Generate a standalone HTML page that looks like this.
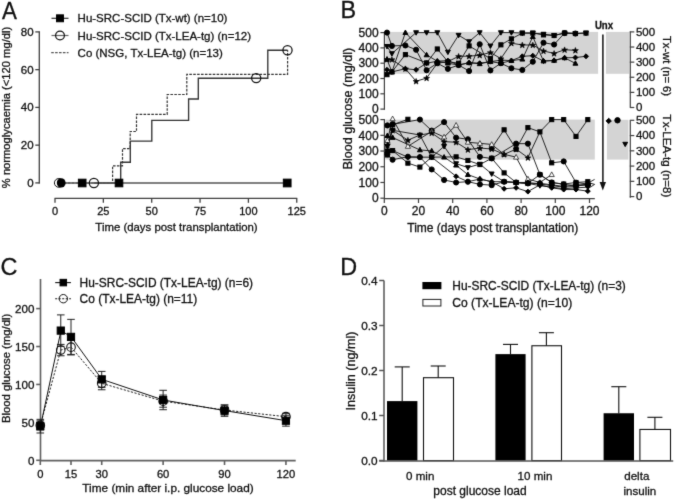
<!DOCTYPE html><html><head><meta charset="utf-8"><style>html,body{margin:0;padding:0;background:#fff;}svg{display:block;} #w{width:675px;height:499px;overflow:hidden;}</style></head><body><div id="w">
<svg width="675" height="499" viewBox="0 0 675 499" style="font-family:'Liberation Sans', sans-serif">
<defs><filter id="bl" filterUnits="userSpaceOnUse" x="0" y="0" width="675" height="499" color-interpolation-filters="sRGB"><feConvolveMatrix order="3" kernelMatrix="0.01134 0.08382 0.01134 0.08382 0.61935 0.08382 0.01134 0.08382 0.01134" edgeMode="duplicate" preserveAlpha="false"/></filter></defs>
<rect width="675" height="499" fill="#fff"/>
<g filter="url(#bl)">
<text x="1.90" y="18.90" font-size="23.6" text-anchor="start" fill="#111" stroke="#111" stroke-width="0.3" textLength="14.9" lengthAdjust="spacingAndGlyphs">A</text>
<line x1="51.50" y1="18.30" x2="68.50" y2="18.30" stroke="#333" stroke-width="1.2"/>
<rect x="56.55" y="14.85" width="6.90" height="6.90" fill="#000" stroke="#000" stroke-width="1"/>
<line x1="51.50" y1="35.50" x2="68.50" y2="35.50" stroke="#666" stroke-width="1.2"/>
<circle cx="60.00" cy="35.50" r="4.40" fill="none" stroke="#111" stroke-width="1.2"/>
<line x1="51.20" y1="52.60" x2="68.50" y2="52.60" stroke="#555" stroke-width="1.3" stroke-dasharray="2.6,1.3"/>
<text x="77.60" y="22.20" font-size="11.5" text-anchor="start" fill="#111" stroke="#111" stroke-width="0.3">Hu-SRC-SCID (Tx-wt) (n=10)</text>
<text x="77.60" y="39.70" font-size="11.5" text-anchor="start" fill="#111" stroke="#111" stroke-width="0.3">Hu-SRC-SCID (Tx-LEA-tg) (n=12)</text>
<text x="77.60" y="56.80" font-size="11.5" text-anchor="start" fill="#111" stroke="#111" stroke-width="0.3">Co (NSG, Tx-LEA-tg) (n=13)</text>
<line x1="39.30" y1="31.60" x2="39.30" y2="183.40" stroke="#404040" stroke-width="1.3"/>
<line x1="35.30" y1="182.90" x2="39.80" y2="182.90" stroke="#404040" stroke-width="1.3"/>
<text x="33.60" y="186.90" font-size="11.5" text-anchor="end" fill="#111" stroke="#111" stroke-width="0.3">0</text>
<line x1="35.30" y1="145.15" x2="39.80" y2="145.15" stroke="#404040" stroke-width="1.3"/>
<text x="33.60" y="149.15" font-size="11.5" text-anchor="end" fill="#111" stroke="#111" stroke-width="0.3">20</text>
<line x1="35.30" y1="107.40" x2="39.80" y2="107.40" stroke="#404040" stroke-width="1.3"/>
<text x="33.60" y="111.40" font-size="11.5" text-anchor="end" fill="#111" stroke="#111" stroke-width="0.3">40</text>
<line x1="35.30" y1="69.65" x2="39.80" y2="69.65" stroke="#404040" stroke-width="1.3"/>
<text x="33.60" y="73.65" font-size="11.5" text-anchor="end" fill="#111" stroke="#111" stroke-width="0.3">60</text>
<line x1="35.30" y1="31.90" x2="39.80" y2="31.90" stroke="#404040" stroke-width="1.3"/>
<text x="33.60" y="35.90" font-size="11.5" text-anchor="end" fill="#111" stroke="#111" stroke-width="0.3">80</text>
<line x1="54.50" y1="198.40" x2="297.30" y2="198.40" stroke="#404040" stroke-width="1.3"/>
<line x1="55.00" y1="198.40" x2="55.00" y2="202.80" stroke="#404040" stroke-width="1.3"/>
<text x="55.00" y="215.30" font-size="11" text-anchor="middle" fill="#111" stroke="#111" stroke-width="0.3">0</text>
<line x1="103.35" y1="198.40" x2="103.35" y2="202.80" stroke="#404040" stroke-width="1.3"/>
<text x="103.35" y="215.30" font-size="11" text-anchor="middle" fill="#111" stroke="#111" stroke-width="0.3">25</text>
<line x1="151.70" y1="198.40" x2="151.70" y2="202.80" stroke="#404040" stroke-width="1.3"/>
<text x="151.70" y="215.30" font-size="11" text-anchor="middle" fill="#111" stroke="#111" stroke-width="0.3">50</text>
<line x1="200.05" y1="198.40" x2="200.05" y2="202.80" stroke="#404040" stroke-width="1.3"/>
<text x="200.05" y="215.30" font-size="11" text-anchor="middle" fill="#111" stroke="#111" stroke-width="0.3">75</text>
<line x1="248.40" y1="198.40" x2="248.40" y2="202.80" stroke="#404040" stroke-width="1.3"/>
<text x="248.40" y="215.30" font-size="11" text-anchor="middle" fill="#111" stroke="#111" stroke-width="0.3">100</text>
<line x1="296.75" y1="198.40" x2="296.75" y2="202.80" stroke="#404040" stroke-width="1.3"/>
<text x="296.75" y="215.30" font-size="11" text-anchor="middle" fill="#111" stroke="#111" stroke-width="0.3">125</text>
<text x="176.50" y="231.20" font-size="11.4" text-anchor="middle" fill="#111" stroke="#111" stroke-width="0.3">Time (days post transplantation)</text>
<text x="10.30" y="107.50" font-size="11.2" text-anchor="middle" fill="#111" stroke="#111" stroke-width="0.3" transform="rotate(-90 10.30 107.50)">% normoglycaemia (&lt;120 mg/dl)</text>
<polyline points="60.00,183.00 112.60,183.00 112.60,165.80 122.50,165.80 122.50,148.60 130.20,148.60 130.20,131.50 136.50,131.50 136.50,114.40 167.20,114.40 167.20,94.50 186.80,94.50 186.80,74.40 287.60,74.40 287.60,50.00" fill="none" stroke="#333" stroke-width="1.2" stroke-dasharray="2.6,1.3" stroke-linejoin="miter"/>
<polyline points="93.90,183.00 120.70,183.00 120.70,162.20 130.30,162.20 130.30,141.10 151.80,141.10 151.80,120.30 188.60,120.30 188.60,99.00 198.30,99.00 198.30,78.20 267.80,78.20 267.80,50.20 287.50,50.20" fill="none" stroke="#333" stroke-width="1.35" stroke-linejoin="miter"/>
<line x1="58.00" y1="183.00" x2="287.00" y2="183.00" stroke="#555" stroke-width="1.3"/>
<circle cx="93.90" cy="183.00" r="4.60" fill="none" stroke="#111" stroke-width="1.25"/>
<circle cx="256.20" cy="78.10" r="4.60" fill="none" stroke="#111" stroke-width="1.25"/>
<circle cx="287.50" cy="50.20" r="4.60" fill="none" stroke="#111" stroke-width="1.25"/>
<circle cx="58.80" cy="182.90" r="4.40" fill="#fff" stroke="#111" stroke-width="1"/>
<ellipse cx="61.2" cy="182.9" rx="4.4" ry="4.7" fill="#000"/>
<rect x="78.40" y="179.20" width="7.60" height="7.60" fill="#000" stroke="#000" stroke-width="1"/>
<rect x="115.20" y="179.20" width="7.60" height="7.60" fill="#000" stroke="#000" stroke-width="1"/>
<rect x="283.35" y="179.15" width="7.70" height="7.70" fill="#000" stroke="#000" stroke-width="1"/>
<text x="340.60" y="17.70" font-size="23.4" text-anchor="start" fill="#111" stroke="#111" stroke-width="0.3">B</text>
<rect x="385.5" y="31.9" width="212.6" height="41.9" fill="#d4d4d4"/>
<rect x="605.9" y="31.9" width="23.3" height="41.9" fill="#d4d4d4"/>
<rect x="385.5" y="119.6" width="209.3" height="40.0" fill="#d4d4d4"/>
<rect x="606.9" y="119.8" width="21.5" height="39.8" fill="#d4d4d4"/>
<line x1="384.40" y1="32.20" x2="384.40" y2="109.80" stroke="#404040" stroke-width="1.2"/>
<line x1="380.40" y1="109.10" x2="384.90" y2="109.10" stroke="#404040" stroke-width="1.2"/>
<text x="378.60" y="113.30" font-size="12" text-anchor="end" fill="#111" stroke="#111" stroke-width="0.3">0</text>
<line x1="380.40" y1="93.80" x2="384.90" y2="93.80" stroke="#404040" stroke-width="1.2"/>
<text x="378.60" y="98.00" font-size="12" text-anchor="end" fill="#111" stroke="#111" stroke-width="0.3">100</text>
<line x1="380.40" y1="78.50" x2="384.90" y2="78.50" stroke="#404040" stroke-width="1.2"/>
<text x="378.60" y="82.70" font-size="12" text-anchor="end" fill="#111" stroke="#111" stroke-width="0.3">200</text>
<line x1="380.40" y1="63.20" x2="384.90" y2="63.20" stroke="#404040" stroke-width="1.2"/>
<text x="378.60" y="67.40" font-size="12" text-anchor="end" fill="#111" stroke="#111" stroke-width="0.3">300</text>
<line x1="380.40" y1="47.90" x2="384.90" y2="47.90" stroke="#404040" stroke-width="1.2"/>
<text x="378.60" y="52.10" font-size="12" text-anchor="end" fill="#111" stroke="#111" stroke-width="0.3">400</text>
<line x1="380.40" y1="32.60" x2="384.90" y2="32.60" stroke="#404040" stroke-width="1.2"/>
<text x="378.60" y="36.80" font-size="12" text-anchor="end" fill="#111" stroke="#111" stroke-width="0.3">500</text>
<line x1="384.40" y1="119.40" x2="384.40" y2="198.60" stroke="#404040" stroke-width="1.2"/>
<line x1="380.40" y1="198.20" x2="384.90" y2="198.20" stroke="#404040" stroke-width="1.2"/>
<text x="378.60" y="202.40" font-size="12" text-anchor="end" fill="#111" stroke="#111" stroke-width="0.3">0</text>
<line x1="380.40" y1="182.48" x2="384.90" y2="182.48" stroke="#404040" stroke-width="1.2"/>
<text x="378.60" y="186.68" font-size="12" text-anchor="end" fill="#111" stroke="#111" stroke-width="0.3">100</text>
<line x1="380.40" y1="166.76" x2="384.90" y2="166.76" stroke="#404040" stroke-width="1.2"/>
<text x="378.60" y="170.96" font-size="12" text-anchor="end" fill="#111" stroke="#111" stroke-width="0.3">200</text>
<line x1="380.40" y1="151.04" x2="384.90" y2="151.04" stroke="#404040" stroke-width="1.2"/>
<text x="378.60" y="155.24" font-size="12" text-anchor="end" fill="#111" stroke="#111" stroke-width="0.3">300</text>
<line x1="380.40" y1="135.32" x2="384.90" y2="135.32" stroke="#404040" stroke-width="1.2"/>
<text x="378.60" y="139.52" font-size="12" text-anchor="end" fill="#111" stroke="#111" stroke-width="0.3">400</text>
<line x1="380.40" y1="119.60" x2="384.90" y2="119.60" stroke="#404040" stroke-width="1.2"/>
<text x="378.60" y="123.80" font-size="12" text-anchor="end" fill="#111" stroke="#111" stroke-width="0.3">500</text>
<line x1="384.00" y1="198.60" x2="594.80" y2="198.60" stroke="#404040" stroke-width="1.2"/>
<line x1="384.30" y1="198.60" x2="384.30" y2="203.00" stroke="#404040" stroke-width="1.2"/>
<text x="384.30" y="215.20" font-size="12" text-anchor="middle" fill="#111" stroke="#111" stroke-width="0.3">0</text>
<line x1="418.50" y1="198.60" x2="418.50" y2="203.00" stroke="#404040" stroke-width="1.2"/>
<text x="418.50" y="215.20" font-size="12" text-anchor="middle" fill="#111" stroke="#111" stroke-width="0.3">20</text>
<line x1="452.70" y1="198.60" x2="452.70" y2="203.00" stroke="#404040" stroke-width="1.2"/>
<text x="452.70" y="215.20" font-size="12" text-anchor="middle" fill="#111" stroke="#111" stroke-width="0.3">40</text>
<line x1="486.90" y1="198.60" x2="486.90" y2="203.00" stroke="#404040" stroke-width="1.2"/>
<text x="486.90" y="215.20" font-size="12" text-anchor="middle" fill="#111" stroke="#111" stroke-width="0.3">60</text>
<line x1="521.10" y1="198.60" x2="521.10" y2="203.00" stroke="#404040" stroke-width="1.2"/>
<text x="521.10" y="215.20" font-size="12" text-anchor="middle" fill="#111" stroke="#111" stroke-width="0.3">80</text>
<line x1="555.30" y1="198.60" x2="555.30" y2="203.00" stroke="#404040" stroke-width="1.2"/>
<text x="555.30" y="215.20" font-size="12" text-anchor="middle" fill="#111" stroke="#111" stroke-width="0.3">100</text>
<line x1="589.50" y1="198.60" x2="589.50" y2="203.00" stroke="#404040" stroke-width="1.2"/>
<text x="589.50" y="215.20" font-size="12" text-anchor="middle" fill="#111" stroke="#111" stroke-width="0.3">120</text>
<text x="492.80" y="231.80" font-size="12" text-anchor="middle" fill="#111" stroke="#111" stroke-width="0.3">Time (days post transplantation)</text>
<text x="352.00" y="108.60" font-size="12.6" text-anchor="middle" fill="#111" stroke="#111" stroke-width="0.3" transform="rotate(-90 352.00 108.60)">Blood glucose (mg/dl)</text>
<line x1="630.30" y1="31.60" x2="630.30" y2="107.20" stroke="#404040" stroke-width="1.2"/>
<line x1="629.80" y1="107.50" x2="634.30" y2="107.50" stroke="#404040" stroke-width="1.2"/>
<text x="635.90" y="111.20" font-size="11.5" text-anchor="start" fill="#111" stroke="#111" stroke-width="0.3">0</text>
<line x1="629.80" y1="92.38" x2="634.30" y2="92.38" stroke="#404040" stroke-width="1.2"/>
<text x="635.90" y="96.08" font-size="11.5" text-anchor="start" fill="#111" stroke="#111" stroke-width="0.3">100</text>
<line x1="629.80" y1="77.26" x2="634.30" y2="77.26" stroke="#404040" stroke-width="1.2"/>
<text x="635.90" y="80.96" font-size="11.5" text-anchor="start" fill="#111" stroke="#111" stroke-width="0.3">200</text>
<line x1="629.80" y1="62.14" x2="634.30" y2="62.14" stroke="#404040" stroke-width="1.2"/>
<text x="635.90" y="65.84" font-size="11.5" text-anchor="start" fill="#111" stroke="#111" stroke-width="0.3">300</text>
<line x1="629.80" y1="47.02" x2="634.30" y2="47.02" stroke="#404040" stroke-width="1.2"/>
<text x="635.90" y="50.72" font-size="11.5" text-anchor="start" fill="#111" stroke="#111" stroke-width="0.3">400</text>
<line x1="629.80" y1="31.90" x2="634.30" y2="31.90" stroke="#404040" stroke-width="1.2"/>
<text x="635.90" y="35.60" font-size="11.5" text-anchor="start" fill="#111" stroke="#111" stroke-width="0.3">500</text>
<line x1="630.30" y1="120.40" x2="630.30" y2="197.70" stroke="#404040" stroke-width="1.2"/>
<line x1="629.80" y1="196.60" x2="634.30" y2="196.60" stroke="#404040" stroke-width="1.2"/>
<text x="635.90" y="200.30" font-size="11.5" text-anchor="start" fill="#111" stroke="#111" stroke-width="0.3">0</text>
<line x1="629.80" y1="181.34" x2="634.30" y2="181.34" stroke="#404040" stroke-width="1.2"/>
<text x="635.90" y="185.04" font-size="11.5" text-anchor="start" fill="#111" stroke="#111" stroke-width="0.3">100</text>
<line x1="629.80" y1="166.08" x2="634.30" y2="166.08" stroke="#404040" stroke-width="1.2"/>
<text x="635.90" y="169.78" font-size="11.5" text-anchor="start" fill="#111" stroke="#111" stroke-width="0.3">200</text>
<line x1="629.80" y1="150.82" x2="634.30" y2="150.82" stroke="#404040" stroke-width="1.2"/>
<text x="635.90" y="154.52" font-size="11.5" text-anchor="start" fill="#111" stroke="#111" stroke-width="0.3">300</text>
<line x1="629.80" y1="135.56" x2="634.30" y2="135.56" stroke="#404040" stroke-width="1.2"/>
<text x="635.90" y="139.26" font-size="11.5" text-anchor="start" fill="#111" stroke="#111" stroke-width="0.3">400</text>
<line x1="629.80" y1="120.30" x2="634.30" y2="120.30" stroke="#404040" stroke-width="1.2"/>
<text x="635.90" y="124.00" font-size="11.5" text-anchor="start" fill="#111" stroke="#111" stroke-width="0.3">500</text>
<text x="662.50" y="66.00" font-size="11.2" text-anchor="middle" fill="#111" stroke="#111" stroke-width="0.3" transform="rotate(90 662.50 66.00)">Tx-wt (n= 6)</text>
<text x="662.50" y="156.00" font-size="11.6" text-anchor="middle" fill="#111" stroke="#111" stroke-width="0.3" transform="rotate(90 662.50 156.00)">Tx-LEA-tg (n=8)</text>
<text x="604.00" y="28.90" font-size="10.6" text-anchor="middle" fill="#111" stroke="#111" stroke-width="0.3" font-weight="bold" textLength="18.2" lengthAdjust="spacingAndGlyphs">Unx</text>
<line x1="602.90" y1="34.50" x2="602.90" y2="183.00" stroke="#111" stroke-width="1.5"/>
<polygon points="599.6,182 606,182 602.8,190.6" fill="#111"/>
<polygon points="608.70,118.26 611.35,120.90 608.70,123.55 606.06,120.90" fill="#000" stroke="#000" stroke-width="1"/>
<circle cx="617.50" cy="120.30" r="2.70" fill="#000" stroke="#000" stroke-width="1"/>
<polygon points="625.20,146.62 627.60,142.30 622.80,142.30" fill="#000" stroke="#000" stroke-width="1"/>
<polyline points="387.00,46.37 391.90,53.56 416.10,32.60 426.60,32.60 437.30,32.60 447.90,52.03 458.60,35.20 469.10,41.63 479.70,32.60 490.40,45.91 500.90,32.60 511.40,32.60 522.30,33.06 532.80,33.06 543.50,34.13 554.10,35.51 564.60,33.06 575.40,33.52 586.00,33.06" fill="none" stroke="#111" stroke-width="0.9" stroke-linejoin="miter"/>
<polyline points="387.00,32.60 391.90,45.91 405.40,45.45 416.10,49.74 426.60,70.24 437.30,63.20 447.90,68.86 458.60,65.04 469.10,71.00 479.70,44.23 490.40,70.39 500.90,63.20 511.40,68.25 522.30,69.93 532.80,61.67 543.50,42.70 554.10,44.53 564.60,33.06 575.40,33.52" fill="none" stroke="#111" stroke-width="0.9" stroke-linejoin="miter"/>
<polyline points="387.00,74.67 391.90,71.92 405.40,54.63 426.60,62.89 437.30,48.97 447.90,61.67 458.60,63.20 469.10,45.91 490.40,58.61 500.90,44.84 511.40,38.87 522.30,33.06 532.80,33.06 543.50,34.89 554.10,35.51 564.60,33.06 575.40,33.52 586.00,33.06" fill="none" stroke="#111" stroke-width="0.9" stroke-linejoin="miter"/>
<polyline points="387.00,59.37 391.90,71.92 405.40,32.60 426.60,54.94 437.30,61.21 447.90,63.20 458.60,65.04 469.10,62.74 479.70,63.81 490.40,61.67 500.90,63.20 511.40,60.60 522.30,59.22 532.80,36.73 543.50,61.06 554.10,60.45 564.60,57.84 575.40,63.35" fill="none" stroke="#111" stroke-width="0.9" stroke-linejoin="miter"/>
<polyline points="387.00,69.78 391.90,71.92 405.40,68.71 416.10,69.78 426.60,63.20 437.30,61.21 447.90,60.60 458.60,65.04 469.10,62.74 479.70,63.20 490.40,61.67 500.90,60.14 511.40,60.60 522.30,56.31 532.80,55.70 543.50,61.06 554.10,60.45 564.60,57.84 575.40,57.54 586.00,56.31" fill="none" stroke="#111" stroke-width="0.9" stroke-linejoin="miter"/>
<polyline points="387.00,59.37 391.90,59.53 405.40,68.71 416.10,81.25 426.60,78.04 437.30,63.20 447.90,61.67 458.60,56.31 469.10,56.16 479.70,55.24 490.40,52.49 500.90,58.61 511.40,43.16 522.30,44.99 532.80,44.99 543.50,50.96 554.10,53.41 564.60,49.74 575.40,50.35" fill="none" stroke="#111" stroke-width="0.9" stroke-linejoin="miter"/>
<polyline points="387.40,151.04 392.60,124.79 407.90,119.29" fill="none" stroke="#111" stroke-width="0.9" stroke-linejoin="miter"/>
<polyline points="491.70,148.05 504.10,129.82 516.10,149.15 527.90,127.62 539.90,131.86 551.70,119.60 563.70,119.60 576.00,136.42 587.80,119.60" fill="none" stroke="#111" stroke-width="0.9" stroke-linejoin="miter"/>
<polyline points="387.40,125.42 392.60,124.32 419.90,119.60 431.70,130.60 444.10,122.12 456.10,137.68 467.90,139.25 479.90,156.86 491.70,158.43 516.10,143.65 527.90,143.65 539.90,174.62 551.70,182.48 563.70,184.37 576.00,185.62 587.80,184.84" fill="none" stroke="#111" stroke-width="0.9" stroke-linejoin="miter"/>
<polyline points="387.40,140.51 392.60,118.81 407.90,146.32 431.70,131.39 444.10,137.05 456.10,125.26 467.90,142.24 479.90,143.34 491.70,144.44 504.10,154.34 516.10,157.17 527.90,179.02 539.90,182.48 551.70,174.62" fill="none" stroke="#111" stroke-width="0.9" stroke-linejoin="miter"/>
<polyline points="387.40,144.75 392.60,130.29 407.90,140.19 419.90,135.01 431.70,132.96 444.10,141.61 456.10,142.24 467.90,149.63 479.90,148.05 491.70,149.00 504.10,154.34 516.10,149.15 527.90,157.64 539.90,131.86 551.70,162.83 563.70,161.42 576.00,182.48 587.80,184.05" fill="none" stroke="#111" stroke-width="0.9" stroke-linejoin="miter"/>
<polyline points="387.40,135.63 392.60,137.52 419.90,149.94 431.70,150.88 444.10,157.17 456.10,165.19 467.90,174.62 479.90,179.02 491.70,181.69 504.10,181.69 516.10,182.48 527.90,182.48 539.90,184.05 551.70,185.62 563.70,187.20 576.00,186.41 587.80,184.05" fill="none" stroke="#111" stroke-width="0.9" stroke-linejoin="miter"/>
<polyline points="387.40,146.32 392.60,130.29 419.90,135.01 431.70,157.17 444.10,146.32 456.10,163.62 467.90,167.55 479.90,164.09 491.70,173.83 504.10,181.69 516.10,182.48 527.90,183.42 539.90,185.62 551.70,187.20 563.70,188.77 576.00,187.82 587.80,187.20" fill="none" stroke="#111" stroke-width="0.9" stroke-linejoin="miter"/>
<polyline points="387.40,152.61 392.60,150.57 407.90,157.17 419.90,157.17 431.70,157.17 456.10,176.35 467.90,181.69 479.90,179.02 491.70,181.69 504.10,188.77 516.10,187.82 527.90,191.60 539.90,184.84 551.70,187.82 563.70,189.55 576.00,189.55 587.80,191.13" fill="none" stroke="#111" stroke-width="0.9" stroke-linejoin="miter"/>
<polyline points="387.40,154.18 392.60,159.69 407.90,156.70 419.90,157.17 431.70,169.43 444.10,179.96 456.10,182.48 467.90,181.69 479.90,184.37 491.70,185.15 504.10,181.69 516.10,182.48 527.90,183.42 539.90,183.27 551.70,184.84 563.70,186.41 576.00,184.84 587.80,184.84" fill="none" stroke="#111" stroke-width="0.9" stroke-linejoin="miter"/>
<polyline points="387.40,154.97 392.60,150.57 407.90,163.14 419.90,167.07 431.70,157.17 456.10,156.86 467.90,160.47 479.90,164.56 491.70,158.27 504.10,172.89 516.10,182.48 527.90,183.42 539.90,174.62 551.70,182.48 563.70,184.05 576.00,182.48 587.80,181.69" fill="none" stroke="#111" stroke-width="0.9" stroke-linejoin="miter"/>
<polyline points="587.80,182.48 594.60,184.40 587.80,188.77" fill="none" stroke="#111" stroke-width="0.9" stroke-linejoin="miter"/>
<polyline points="587.80,183.27 594.60,179.40" fill="none" stroke="#111" stroke-width="0.9" stroke-linejoin="miter"/>
<polygon points="387.00,48.94 389.45,44.53 384.55,44.53" fill="#000" stroke="#000" stroke-width="1"/>
<polygon points="391.90,56.13 394.35,51.72 389.45,51.72" fill="#000" stroke="#000" stroke-width="1"/>
<polygon points="416.10,35.17 418.55,30.76 413.65,30.76" fill="#000" stroke="#000" stroke-width="1"/>
<polygon points="426.60,35.17 429.05,30.76 424.15,30.76" fill="#000" stroke="#000" stroke-width="1"/>
<polygon points="437.30,35.17 439.75,30.76 434.85,30.76" fill="#000" stroke="#000" stroke-width="1"/>
<polygon points="447.90,54.60 450.35,50.19 445.45,50.19" fill="#000" stroke="#000" stroke-width="1"/>
<polygon points="458.60,37.77 461.05,33.36 456.15,33.36" fill="#000" stroke="#000" stroke-width="1"/>
<polygon points="469.10,44.20 471.55,39.79 466.65,39.79" fill="#000" stroke="#000" stroke-width="1"/>
<polygon points="479.70,35.17 482.15,30.76 477.25,30.76" fill="#000" stroke="#000" stroke-width="1"/>
<polygon points="490.40,48.48 492.85,44.07 487.95,44.07" fill="#000" stroke="#000" stroke-width="1"/>
<polygon points="500.90,35.17 503.35,30.76 498.45,30.76" fill="#000" stroke="#000" stroke-width="1"/>
<polygon points="511.40,35.17 513.85,30.76 508.95,30.76" fill="#000" stroke="#000" stroke-width="1"/>
<polygon points="522.30,35.63 524.75,31.22 519.85,31.22" fill="#000" stroke="#000" stroke-width="1"/>
<polygon points="532.80,35.63 535.25,31.22 530.35,31.22" fill="#000" stroke="#000" stroke-width="1"/>
<polygon points="543.50,36.70 545.95,32.29 541.05,32.29" fill="#000" stroke="#000" stroke-width="1"/>
<polygon points="554.10,38.08 556.55,33.67 551.65,33.67" fill="#000" stroke="#000" stroke-width="1"/>
<polygon points="564.60,35.63 567.05,31.22 562.15,31.22" fill="#000" stroke="#000" stroke-width="1"/>
<polygon points="575.40,36.09 577.85,31.68 572.95,31.68" fill="#000" stroke="#000" stroke-width="1"/>
<polygon points="586.00,35.63 588.45,31.22 583.55,31.22" fill="#000" stroke="#000" stroke-width="1"/>
<circle cx="387.00" cy="32.60" r="2.55" fill="#000" stroke="#000" stroke-width="1"/>
<circle cx="391.90" cy="45.91" r="2.55" fill="#000" stroke="#000" stroke-width="1"/>
<circle cx="405.40" cy="45.45" r="2.55" fill="#000" stroke="#000" stroke-width="1"/>
<circle cx="416.10" cy="49.74" r="2.55" fill="#000" stroke="#000" stroke-width="1"/>
<circle cx="426.60" cy="70.24" r="2.55" fill="#000" stroke="#000" stroke-width="1"/>
<circle cx="437.30" cy="63.20" r="2.55" fill="#000" stroke="#000" stroke-width="1"/>
<circle cx="447.90" cy="68.86" r="2.55" fill="#000" stroke="#000" stroke-width="1"/>
<circle cx="458.60" cy="65.04" r="2.55" fill="#000" stroke="#000" stroke-width="1"/>
<circle cx="469.10" cy="71.00" r="2.55" fill="#000" stroke="#000" stroke-width="1"/>
<circle cx="479.70" cy="44.23" r="2.55" fill="#000" stroke="#000" stroke-width="1"/>
<circle cx="490.40" cy="70.39" r="2.55" fill="#000" stroke="#000" stroke-width="1"/>
<circle cx="500.90" cy="63.20" r="2.55" fill="#000" stroke="#000" stroke-width="1"/>
<circle cx="511.40" cy="68.25" r="2.55" fill="#000" stroke="#000" stroke-width="1"/>
<circle cx="522.30" cy="69.93" r="2.55" fill="#000" stroke="#000" stroke-width="1"/>
<circle cx="532.80" cy="61.67" r="2.55" fill="#000" stroke="#000" stroke-width="1"/>
<circle cx="543.50" cy="42.70" r="2.55" fill="#000" stroke="#000" stroke-width="1"/>
<circle cx="554.10" cy="44.53" r="2.55" fill="#000" stroke="#000" stroke-width="1"/>
<circle cx="564.60" cy="33.06" r="2.55" fill="#000" stroke="#000" stroke-width="1"/>
<circle cx="575.40" cy="33.52" r="2.55" fill="#000" stroke="#000" stroke-width="1"/>
<rect x="384.95" y="72.62" width="4.10" height="4.10" fill="#000" stroke="#000" stroke-width="1"/>
<rect x="389.85" y="69.87" width="4.10" height="4.10" fill="#000" stroke="#000" stroke-width="1"/>
<rect x="403.35" y="52.58" width="4.10" height="4.10" fill="#000" stroke="#000" stroke-width="1"/>
<rect x="424.55" y="60.84" width="4.10" height="4.10" fill="#000" stroke="#000" stroke-width="1"/>
<rect x="435.25" y="46.92" width="4.10" height="4.10" fill="#000" stroke="#000" stroke-width="1"/>
<rect x="445.85" y="59.62" width="4.10" height="4.10" fill="#000" stroke="#000" stroke-width="1"/>
<rect x="456.55" y="61.15" width="4.10" height="4.10" fill="#000" stroke="#000" stroke-width="1"/>
<rect x="467.05" y="43.86" width="4.10" height="4.10" fill="#000" stroke="#000" stroke-width="1"/>
<rect x="488.35" y="56.56" width="4.10" height="4.10" fill="#000" stroke="#000" stroke-width="1"/>
<rect x="498.85" y="42.79" width="4.10" height="4.10" fill="#000" stroke="#000" stroke-width="1"/>
<rect x="509.35" y="36.82" width="4.10" height="4.10" fill="#000" stroke="#000" stroke-width="1"/>
<rect x="520.25" y="31.01" width="4.10" height="4.10" fill="#000" stroke="#000" stroke-width="1"/>
<rect x="530.75" y="31.01" width="4.10" height="4.10" fill="#000" stroke="#000" stroke-width="1"/>
<rect x="541.45" y="32.84" width="4.10" height="4.10" fill="#000" stroke="#000" stroke-width="1"/>
<rect x="552.05" y="33.46" width="4.10" height="4.10" fill="#000" stroke="#000" stroke-width="1"/>
<rect x="562.55" y="31.01" width="4.10" height="4.10" fill="#000" stroke="#000" stroke-width="1"/>
<rect x="573.35" y="31.47" width="4.10" height="4.10" fill="#000" stroke="#000" stroke-width="1"/>
<rect x="583.95" y="31.01" width="4.10" height="4.10" fill="#000" stroke="#000" stroke-width="1"/>
<polygon points="387.00,56.80 389.45,61.21 384.55,61.21" fill="#000" stroke="#000" stroke-width="1"/>
<polygon points="391.90,69.35 394.35,73.76 389.45,73.76" fill="#000" stroke="#000" stroke-width="1"/>
<polygon points="405.40,30.03 407.85,34.44 402.95,34.44" fill="#000" stroke="#000" stroke-width="1"/>
<polygon points="426.60,52.37 429.05,56.78 424.15,56.78" fill="#000" stroke="#000" stroke-width="1"/>
<polygon points="437.30,58.64 439.75,63.05 434.85,63.05" fill="#000" stroke="#000" stroke-width="1"/>
<polygon points="447.90,60.63 450.35,65.04 445.45,65.04" fill="#000" stroke="#000" stroke-width="1"/>
<polygon points="458.60,62.46 461.05,66.87 456.15,66.87" fill="#000" stroke="#000" stroke-width="1"/>
<polygon points="469.10,60.17 471.55,64.58 466.65,64.58" fill="#000" stroke="#000" stroke-width="1"/>
<polygon points="479.70,61.24 482.15,65.65 477.25,65.65" fill="#000" stroke="#000" stroke-width="1"/>
<polygon points="490.40,59.10 492.85,63.51 487.95,63.51" fill="#000" stroke="#000" stroke-width="1"/>
<polygon points="500.90,60.63 503.35,65.04 498.45,65.04" fill="#000" stroke="#000" stroke-width="1"/>
<polygon points="511.40,58.03 513.85,62.44 508.95,62.44" fill="#000" stroke="#000" stroke-width="1"/>
<polygon points="522.30,56.65 524.75,61.06 519.85,61.06" fill="#000" stroke="#000" stroke-width="1"/>
<polygon points="532.80,34.16 535.25,38.57 530.35,38.57" fill="#000" stroke="#000" stroke-width="1"/>
<polygon points="543.50,58.49 545.95,62.90 541.05,62.90" fill="#000" stroke="#000" stroke-width="1"/>
<polygon points="554.10,57.87 556.55,62.28 551.65,62.28" fill="#000" stroke="#000" stroke-width="1"/>
<polygon points="564.60,55.27 567.05,59.68 562.15,59.68" fill="#000" stroke="#000" stroke-width="1"/>
<polygon points="575.40,60.78 577.85,65.19 572.95,65.19" fill="#000" stroke="#000" stroke-width="1"/>
<polygon points="387.00,67.31 389.47,69.78 387.00,72.25 384.53,69.78" fill="#000" stroke="#000" stroke-width="1"/>
<polygon points="391.90,69.45 394.37,71.92 391.90,74.39 389.43,71.92" fill="#000" stroke="#000" stroke-width="1"/>
<polygon points="405.40,66.24 407.87,68.71 405.40,71.18 402.93,68.71" fill="#000" stroke="#000" stroke-width="1"/>
<polygon points="416.10,67.31 418.57,69.78 416.10,72.25 413.63,69.78" fill="#000" stroke="#000" stroke-width="1"/>
<polygon points="426.60,60.73 429.07,63.20 426.60,65.67 424.13,63.20" fill="#000" stroke="#000" stroke-width="1"/>
<polygon points="437.30,58.74 439.77,61.21 437.30,63.68 434.83,61.21" fill="#000" stroke="#000" stroke-width="1"/>
<polygon points="447.90,58.13 450.37,60.60 447.90,63.07 445.43,60.60" fill="#000" stroke="#000" stroke-width="1"/>
<polygon points="458.60,62.56 461.07,65.04 458.60,67.51 456.13,65.04" fill="#000" stroke="#000" stroke-width="1"/>
<polygon points="469.10,60.27 471.57,62.74 469.10,65.21 466.63,62.74" fill="#000" stroke="#000" stroke-width="1"/>
<polygon points="479.70,60.73 482.17,63.20 479.70,65.67 477.23,63.20" fill="#000" stroke="#000" stroke-width="1"/>
<polygon points="490.40,59.20 492.87,61.67 490.40,64.14 487.93,61.67" fill="#000" stroke="#000" stroke-width="1"/>
<polygon points="500.90,57.67 503.37,60.14 500.90,62.61 498.43,60.14" fill="#000" stroke="#000" stroke-width="1"/>
<polygon points="511.40,58.13 513.87,60.60 511.40,63.07 508.93,60.60" fill="#000" stroke="#000" stroke-width="1"/>
<polygon points="522.30,53.84 524.77,56.31 522.30,58.79 519.83,56.31" fill="#000" stroke="#000" stroke-width="1"/>
<polygon points="532.80,53.23 535.27,55.70 532.80,58.18 530.33,55.70" fill="#000" stroke="#000" stroke-width="1"/>
<polygon points="543.50,58.59 545.97,61.06 543.50,63.53 541.03,61.06" fill="#000" stroke="#000" stroke-width="1"/>
<polygon points="554.10,57.97 556.57,60.45 554.10,62.92 551.63,60.45" fill="#000" stroke="#000" stroke-width="1"/>
<polygon points="564.60,55.37 567.07,57.84 564.60,60.32 562.13,57.84" fill="#000" stroke="#000" stroke-width="1"/>
<polygon points="575.40,55.07 577.87,57.54 575.40,60.01 572.93,57.54" fill="#000" stroke="#000" stroke-width="1"/>
<polygon points="586.00,53.84 588.47,56.31 586.00,58.79 583.53,56.31" fill="#000" stroke="#000" stroke-width="1"/>
<polygon points="387.00,56.55 387.77,58.61 389.97,58.71 388.25,60.08 388.84,62.20 387.00,60.99 385.16,62.20 385.75,60.08 384.03,58.71 386.23,58.61" fill="#000" stroke="#000" stroke-width="0.6"/>
<polygon points="391.90,56.70 392.67,58.77 394.87,58.86 393.15,60.23 393.74,62.36 391.90,61.14 390.06,62.36 390.65,60.23 388.93,58.86 391.13,58.77" fill="#000" stroke="#000" stroke-width="0.6"/>
<polygon points="405.40,65.88 406.17,67.95 408.37,68.04 406.65,69.41 407.24,71.54 405.40,70.32 403.56,71.54 404.15,69.41 402.43,68.04 404.63,67.95" fill="#000" stroke="#000" stroke-width="0.6"/>
<polygon points="416.10,78.43 416.87,80.49 419.07,80.59 417.35,81.96 417.94,84.08 416.10,82.87 414.26,84.08 414.85,81.96 413.13,80.59 415.33,80.49" fill="#000" stroke="#000" stroke-width="0.6"/>
<polygon points="426.60,75.22 427.37,77.28 429.57,77.38 427.85,78.75 428.44,80.87 426.60,79.65 424.76,80.87 425.35,78.75 423.63,77.38 425.83,77.28" fill="#000" stroke="#000" stroke-width="0.6"/>
<polygon points="437.30,60.37 438.07,62.44 440.27,62.53 438.55,63.91 439.14,66.03 437.30,64.81 435.46,66.03 436.05,63.91 434.33,62.53 436.53,62.44" fill="#000" stroke="#000" stroke-width="0.6"/>
<polygon points="447.90,58.84 448.67,60.91 450.87,61.00 449.15,62.38 449.74,64.50 447.90,63.28 446.06,64.50 446.65,62.38 444.93,61.00 447.13,60.91" fill="#000" stroke="#000" stroke-width="0.6"/>
<polygon points="458.60,53.49 459.37,55.55 461.57,55.65 459.85,57.02 460.44,59.14 458.60,57.93 456.76,59.14 457.35,57.02 455.63,55.65 457.83,55.55" fill="#000" stroke="#000" stroke-width="0.6"/>
<polygon points="469.10,53.34 469.87,55.40 472.07,55.50 470.35,56.87 470.94,58.99 469.10,57.77 467.26,58.99 467.85,56.87 466.13,55.50 468.33,55.40" fill="#000" stroke="#000" stroke-width="0.6"/>
<polygon points="479.70,52.42 480.47,54.48 482.67,54.58 480.95,55.95 481.54,58.07 479.70,56.86 477.86,58.07 478.45,55.95 476.73,54.58 478.93,54.48" fill="#000" stroke="#000" stroke-width="0.6"/>
<polygon points="490.40,49.66 491.17,51.73 493.37,51.82 491.65,53.20 492.24,55.32 490.40,54.10 488.56,55.32 489.15,53.20 487.43,51.82 489.63,51.73" fill="#000" stroke="#000" stroke-width="0.6"/>
<polygon points="500.90,55.78 501.67,57.85 503.87,57.94 502.15,59.32 502.74,61.44 500.90,60.22 499.06,61.44 499.65,59.32 497.93,57.94 500.13,57.85" fill="#000" stroke="#000" stroke-width="0.6"/>
<polygon points="511.40,40.33 512.17,42.40 514.37,42.49 512.65,43.86 513.24,45.99 511.40,44.77 509.56,45.99 510.15,43.86 508.43,42.49 510.63,42.40" fill="#000" stroke="#000" stroke-width="0.6"/>
<polygon points="522.30,42.17 523.07,44.23 525.27,44.33 523.55,45.70 524.14,47.82 522.30,46.61 520.46,47.82 521.05,45.70 519.33,44.33 521.53,44.23" fill="#000" stroke="#000" stroke-width="0.6"/>
<polygon points="532.80,42.17 533.57,44.23 535.77,44.33 534.05,45.70 534.64,47.82 532.80,46.61 530.96,47.82 531.55,45.70 529.83,44.33 532.03,44.23" fill="#000" stroke="#000" stroke-width="0.6"/>
<polygon points="543.50,48.13 544.27,50.20 546.47,50.29 544.75,51.67 545.34,53.79 543.50,52.57 541.66,53.79 542.25,51.67 540.53,50.29 542.73,50.20" fill="#000" stroke="#000" stroke-width="0.6"/>
<polygon points="554.10,50.58 554.87,52.65 557.07,52.74 555.35,54.11 555.94,56.24 554.10,55.02 552.26,56.24 552.85,54.11 551.13,52.74 553.33,52.65" fill="#000" stroke="#000" stroke-width="0.6"/>
<polygon points="564.60,46.91 565.37,48.97 567.57,49.07 565.85,50.44 566.44,52.56 564.60,51.35 562.76,52.56 563.35,50.44 561.63,49.07 563.83,48.97" fill="#000" stroke="#000" stroke-width="0.6"/>
<polygon points="575.40,47.52 576.17,49.59 578.37,49.68 576.65,51.05 577.24,53.18 575.40,51.96 573.56,53.18 574.15,51.05 572.43,49.68 574.63,49.59" fill="#000" stroke="#000" stroke-width="0.6"/>
<rect x="385.35" y="148.99" width="4.10" height="4.10" fill="#000" stroke="#000" stroke-width="1"/>
<rect x="390.55" y="122.74" width="4.10" height="4.10" fill="#000" stroke="#000" stroke-width="1"/>
<rect x="405.85" y="117.24" width="4.10" height="4.10" fill="#000" stroke="#000" stroke-width="1"/>
<rect x="489.65" y="146.00" width="4.10" height="4.10" fill="#000" stroke="#000" stroke-width="1"/>
<rect x="502.05" y="127.77" width="4.10" height="4.10" fill="#000" stroke="#000" stroke-width="1"/>
<rect x="514.05" y="147.10" width="4.10" height="4.10" fill="#000" stroke="#000" stroke-width="1"/>
<rect x="525.85" y="125.57" width="4.10" height="4.10" fill="#000" stroke="#000" stroke-width="1"/>
<rect x="537.85" y="129.81" width="4.10" height="4.10" fill="#000" stroke="#000" stroke-width="1"/>
<rect x="549.65" y="117.55" width="4.10" height="4.10" fill="#000" stroke="#000" stroke-width="1"/>
<rect x="561.65" y="117.55" width="4.10" height="4.10" fill="#000" stroke="#000" stroke-width="1"/>
<rect x="573.95" y="134.37" width="4.10" height="4.10" fill="#000" stroke="#000" stroke-width="1"/>
<rect x="585.75" y="117.55" width="4.10" height="4.10" fill="#000" stroke="#000" stroke-width="1"/>
<circle cx="387.40" cy="125.42" r="2.55" fill="#000" stroke="#000" stroke-width="1"/>
<circle cx="392.60" cy="124.32" r="2.55" fill="#000" stroke="#000" stroke-width="1"/>
<circle cx="419.90" cy="119.60" r="2.55" fill="#000" stroke="#000" stroke-width="1"/>
<circle cx="431.70" cy="130.60" r="2.55" fill="#000" stroke="#000" stroke-width="1"/>
<circle cx="444.10" cy="122.12" r="2.55" fill="#000" stroke="#000" stroke-width="1"/>
<circle cx="456.10" cy="137.68" r="2.55" fill="#000" stroke="#000" stroke-width="1"/>
<circle cx="467.90" cy="139.25" r="2.55" fill="#000" stroke="#000" stroke-width="1"/>
<circle cx="479.90" cy="156.86" r="2.55" fill="#000" stroke="#000" stroke-width="1"/>
<circle cx="491.70" cy="158.43" r="2.55" fill="#000" stroke="#000" stroke-width="1"/>
<circle cx="516.10" cy="143.65" r="2.55" fill="#000" stroke="#000" stroke-width="1"/>
<circle cx="527.90" cy="143.65" r="2.55" fill="#000" stroke="#000" stroke-width="1"/>
<circle cx="539.90" cy="174.62" r="2.55" fill="#000" stroke="#000" stroke-width="1"/>
<circle cx="551.70" cy="182.48" r="2.55" fill="#000" stroke="#000" stroke-width="1"/>
<circle cx="563.70" cy="184.37" r="2.55" fill="#000" stroke="#000" stroke-width="1"/>
<circle cx="576.00" cy="185.62" r="2.55" fill="#000" stroke="#000" stroke-width="1"/>
<circle cx="587.80" cy="184.84" r="2.55" fill="#000" stroke="#000" stroke-width="1"/>
<polygon points="387.40,137.78 390.00,142.46 384.80,142.46" fill="#fff" stroke="#222" stroke-width="0.8"/>
<polygon points="392.60,116.08 395.20,120.76 390.00,120.76" fill="#fff" stroke="#222" stroke-width="0.8"/>
<polygon points="407.90,143.59 410.50,148.27 405.30,148.27" fill="#fff" stroke="#222" stroke-width="0.8"/>
<polygon points="431.70,128.66 434.30,133.34 429.10,133.34" fill="#fff" stroke="#222" stroke-width="0.8"/>
<polygon points="444.10,134.32 446.70,139.00 441.50,139.00" fill="#fff" stroke="#222" stroke-width="0.8"/>
<polygon points="456.10,122.53 458.70,127.21 453.50,127.21" fill="#fff" stroke="#222" stroke-width="0.8"/>
<polygon points="467.90,139.51 470.50,144.19 465.30,144.19" fill="#fff" stroke="#222" stroke-width="0.8"/>
<polygon points="479.90,140.61 482.50,145.29 477.30,145.29" fill="#fff" stroke="#222" stroke-width="0.8"/>
<polygon points="491.70,141.71 494.30,146.39 489.10,146.39" fill="#fff" stroke="#222" stroke-width="0.8"/>
<polygon points="504.10,151.61 506.70,156.29 501.50,156.29" fill="#fff" stroke="#222" stroke-width="0.8"/>
<polygon points="516.10,154.44 518.70,159.12 513.50,159.12" fill="#fff" stroke="#222" stroke-width="0.8"/>
<polygon points="527.90,176.29 530.50,180.97 525.30,180.97" fill="#fff" stroke="#222" stroke-width="0.8"/>
<polygon points="539.90,179.75 542.50,184.43 537.30,184.43" fill="#fff" stroke="#222" stroke-width="0.8"/>
<polygon points="551.70,171.89 554.30,176.57 549.10,176.57" fill="#fff" stroke="#222" stroke-width="0.8"/>
<polygon points="387.40,141.93 388.17,143.99 390.37,144.09 388.65,145.46 389.24,147.58 387.40,146.36 385.56,147.58 386.15,145.46 384.43,144.09 386.63,143.99" fill="#000" stroke="#000" stroke-width="0.6"/>
<polygon points="392.60,127.46 393.37,129.53 395.57,129.62 393.85,131.00 394.44,133.12 392.60,131.90 390.76,133.12 391.35,131.00 389.63,129.62 391.83,129.53" fill="#000" stroke="#000" stroke-width="0.6"/>
<polygon points="407.90,137.37 408.67,139.43 410.87,139.53 409.15,140.90 409.74,143.02 407.90,141.81 406.06,143.02 406.65,140.90 404.93,139.53 407.13,139.43" fill="#000" stroke="#000" stroke-width="0.6"/>
<polygon points="419.90,132.18 420.67,134.24 422.87,134.34 421.15,135.71 421.74,137.83 419.90,136.62 418.06,137.83 418.65,135.71 416.93,134.34 419.13,134.24" fill="#000" stroke="#000" stroke-width="0.6"/>
<polygon points="431.70,130.14 432.47,132.20 434.67,132.30 432.95,133.67 433.54,135.79 431.70,134.57 429.86,135.79 430.45,133.67 428.73,132.30 430.93,132.20" fill="#000" stroke="#000" stroke-width="0.6"/>
<polygon points="444.10,138.78 444.87,140.85 447.07,140.94 445.35,142.31 445.94,144.44 444.10,143.22 442.26,144.44 442.85,142.31 441.13,140.94 443.33,140.85" fill="#000" stroke="#000" stroke-width="0.6"/>
<polygon points="456.10,139.41 456.87,141.47 459.07,141.57 457.35,142.94 457.94,145.06 456.10,143.85 454.26,145.06 454.85,142.94 453.13,141.57 455.33,141.47" fill="#000" stroke="#000" stroke-width="0.6"/>
<polygon points="467.90,146.80 468.67,148.86 470.87,148.96 469.15,150.33 469.74,152.45 467.90,151.24 466.06,152.45 466.65,150.33 464.93,148.96 467.13,148.86" fill="#000" stroke="#000" stroke-width="0.6"/>
<polygon points="479.90,145.23 480.67,147.29 482.87,147.39 481.15,148.76 481.74,150.88 479.90,149.67 478.06,150.88 478.65,148.76 476.93,147.39 479.13,147.29" fill="#000" stroke="#000" stroke-width="0.6"/>
<polygon points="491.70,146.17 492.47,148.23 494.67,148.33 492.95,149.70 493.54,151.82 491.70,150.61 489.86,151.82 490.45,149.70 488.73,148.33 490.93,148.23" fill="#000" stroke="#000" stroke-width="0.6"/>
<polygon points="504.10,151.52 504.87,153.58 507.07,153.68 505.35,155.05 505.94,157.17 504.10,155.95 502.26,157.17 502.85,155.05 501.13,153.68 503.33,153.58" fill="#000" stroke="#000" stroke-width="0.6"/>
<polygon points="516.10,146.33 516.87,148.39 519.07,148.49 517.35,149.86 517.94,151.98 516.10,150.77 514.26,151.98 514.85,149.86 513.13,148.49 515.33,148.39" fill="#000" stroke="#000" stroke-width="0.6"/>
<polygon points="527.90,154.82 528.67,156.88 530.87,156.98 529.15,158.35 529.74,160.47 527.90,159.25 526.06,160.47 526.65,158.35 524.93,156.98 527.13,156.88" fill="#000" stroke="#000" stroke-width="0.6"/>
<rect x="549.65" y="160.78" width="4.10" height="4.10" fill="#000" stroke="#000" stroke-width="1"/>
<circle cx="563.70" cy="161.42" r="2.55" fill="#000" stroke="#000" stroke-width="1"/>
<polygon points="576.00,179.66 576.77,181.72 578.97,181.81 577.25,183.19 577.84,185.31 576.00,184.09 574.16,185.31 574.75,183.19 573.03,181.81 575.23,181.72" fill="#000" stroke="#000" stroke-width="0.6"/>
<polygon points="587.80,181.23 588.57,183.29 590.77,183.39 589.05,184.76 589.64,186.88 587.80,185.66 585.96,186.88 586.55,184.76 584.83,183.39 587.03,183.29" fill="#000" stroke="#000" stroke-width="0.6"/>
<polygon points="387.40,133.06 389.85,137.47 384.95,137.47" fill="#000" stroke="#000" stroke-width="1"/>
<polygon points="392.60,134.95 395.05,139.36 390.15,139.36" fill="#000" stroke="#000" stroke-width="1"/>
<polygon points="419.90,147.37 422.35,151.78 417.45,151.78" fill="#000" stroke="#000" stroke-width="1"/>
<polygon points="431.70,148.31 434.15,152.72 429.25,152.72" fill="#000" stroke="#000" stroke-width="1"/>
<polygon points="444.10,154.60 446.55,159.01 441.65,159.01" fill="#000" stroke="#000" stroke-width="1"/>
<polygon points="456.10,162.62 458.55,167.03 453.65,167.03" fill="#000" stroke="#000" stroke-width="1"/>
<polygon points="467.90,172.05 470.35,176.46 465.45,176.46" fill="#000" stroke="#000" stroke-width="1"/>
<polygon points="479.90,176.45 482.35,180.86 477.45,180.86" fill="#000" stroke="#000" stroke-width="1"/>
<polygon points="491.70,179.12 494.15,183.53 489.25,183.53" fill="#000" stroke="#000" stroke-width="1"/>
<polygon points="504.10,179.12 506.55,183.53 501.65,183.53" fill="#000" stroke="#000" stroke-width="1"/>
<polygon points="516.10,179.91 518.55,184.32 513.65,184.32" fill="#000" stroke="#000" stroke-width="1"/>
<polygon points="527.90,179.91 530.35,184.32 525.45,184.32" fill="#000" stroke="#000" stroke-width="1"/>
<polygon points="539.90,181.48 542.35,185.89 537.45,185.89" fill="#000" stroke="#000" stroke-width="1"/>
<polygon points="551.70,183.05 554.15,187.46 549.25,187.46" fill="#000" stroke="#000" stroke-width="1"/>
<polygon points="563.70,184.62 566.15,189.03 561.25,189.03" fill="#000" stroke="#000" stroke-width="1"/>
<polygon points="576.00,183.84 578.45,188.25 573.55,188.25" fill="#000" stroke="#000" stroke-width="1"/>
<polygon points="587.80,181.48 590.25,185.89 585.35,185.89" fill="#000" stroke="#000" stroke-width="1"/>
<polygon points="387.40,148.90 389.85,144.49 384.95,144.49" fill="#000" stroke="#000" stroke-width="1"/>
<polygon points="392.60,132.86 395.05,128.45 390.15,128.45" fill="#000" stroke="#000" stroke-width="1"/>
<polygon points="419.90,137.58 422.35,133.17 417.45,133.17" fill="#000" stroke="#000" stroke-width="1"/>
<polygon points="431.70,159.74 434.15,155.33 429.25,155.33" fill="#000" stroke="#000" stroke-width="1"/>
<polygon points="444.10,148.90 446.55,144.49 441.65,144.49" fill="#000" stroke="#000" stroke-width="1"/>
<polygon points="456.10,166.19 458.55,161.78 453.65,161.78" fill="#000" stroke="#000" stroke-width="1"/>
<polygon points="467.90,170.12 470.35,165.71 465.45,165.71" fill="#000" stroke="#000" stroke-width="1"/>
<polygon points="479.90,166.66 482.35,162.25 477.45,162.25" fill="#000" stroke="#000" stroke-width="1"/>
<polygon points="491.70,176.41 494.15,172.00 489.25,172.00" fill="#000" stroke="#000" stroke-width="1"/>
<polygon points="504.10,184.27 506.55,179.86 501.65,179.86" fill="#000" stroke="#000" stroke-width="1"/>
<polygon points="516.10,185.05 518.55,180.64 513.65,180.64" fill="#000" stroke="#000" stroke-width="1"/>
<polygon points="527.90,186.00 530.35,181.59 525.45,181.59" fill="#000" stroke="#000" stroke-width="1"/>
<polygon points="539.90,188.20 542.35,183.79 537.45,183.79" fill="#000" stroke="#000" stroke-width="1"/>
<polygon points="551.70,189.77 554.15,185.36 549.25,185.36" fill="#000" stroke="#000" stroke-width="1"/>
<polygon points="563.70,191.34 566.15,186.93 561.25,186.93" fill="#000" stroke="#000" stroke-width="1"/>
<polygon points="576.00,190.40 578.45,185.99 573.55,185.99" fill="#000" stroke="#000" stroke-width="1"/>
<polygon points="587.80,189.77 590.25,185.36 585.35,185.36" fill="#000" stroke="#000" stroke-width="1"/>
<polygon points="387.40,150.14 389.87,152.61 387.40,155.08 384.93,152.61" fill="#000" stroke="#000" stroke-width="1"/>
<polygon points="392.60,148.10 395.07,150.57 392.60,153.04 390.13,150.57" fill="#000" stroke="#000" stroke-width="1"/>
<polygon points="407.90,154.70 410.37,157.17 407.90,159.64 405.43,157.17" fill="#000" stroke="#000" stroke-width="1"/>
<polygon points="419.90,154.70 422.37,157.17 419.90,159.64 417.43,157.17" fill="#000" stroke="#000" stroke-width="1"/>
<polygon points="431.70,154.70 434.17,157.17 431.70,159.64 429.23,157.17" fill="#000" stroke="#000" stroke-width="1"/>
<polygon points="456.10,173.88 458.57,176.35 456.10,178.82 453.63,176.35" fill="#000" stroke="#000" stroke-width="1"/>
<polygon points="467.90,179.22 470.37,181.69 467.90,184.17 465.43,181.69" fill="#000" stroke="#000" stroke-width="1"/>
<polygon points="479.90,176.55 482.37,179.02 479.90,181.49 477.43,179.02" fill="#000" stroke="#000" stroke-width="1"/>
<polygon points="491.70,179.22 494.17,181.69 491.70,184.17 489.23,181.69" fill="#000" stroke="#000" stroke-width="1"/>
<polygon points="504.10,186.30 506.57,188.77 504.10,191.24 501.63,188.77" fill="#000" stroke="#000" stroke-width="1"/>
<polygon points="516.10,185.35 518.57,187.82 516.10,190.30 513.63,187.82" fill="#000" stroke="#000" stroke-width="1"/>
<polygon points="527.90,189.13 530.37,191.60 527.90,194.07 525.43,191.60" fill="#000" stroke="#000" stroke-width="1"/>
<polygon points="539.90,182.37 542.37,184.84 539.90,187.31 537.43,184.84" fill="#000" stroke="#000" stroke-width="1"/>
<polygon points="551.70,185.35 554.17,187.82 551.70,190.30 549.23,187.82" fill="#000" stroke="#000" stroke-width="1"/>
<polygon points="563.70,187.08 566.17,189.55 563.70,192.03 561.23,189.55" fill="#000" stroke="#000" stroke-width="1"/>
<polygon points="576.00,187.08 578.47,189.55 576.00,192.03 573.53,189.55" fill="#000" stroke="#000" stroke-width="1"/>
<polygon points="587.80,188.65 590.27,191.13 587.80,193.60 585.33,191.13" fill="#000" stroke="#000" stroke-width="1"/>
<circle cx="387.40" cy="154.18" r="2.55" fill="#000" stroke="#000" stroke-width="1"/>
<circle cx="392.60" cy="159.69" r="2.55" fill="#000" stroke="#000" stroke-width="1"/>
<circle cx="407.90" cy="156.70" r="2.55" fill="#000" stroke="#000" stroke-width="1"/>
<circle cx="419.90" cy="157.17" r="2.55" fill="#000" stroke="#000" stroke-width="1"/>
<circle cx="431.70" cy="169.43" r="2.55" fill="#000" stroke="#000" stroke-width="1"/>
<circle cx="444.10" cy="179.96" r="2.55" fill="#000" stroke="#000" stroke-width="1"/>
<circle cx="456.10" cy="182.48" r="2.55" fill="#000" stroke="#000" stroke-width="1"/>
<circle cx="467.90" cy="181.69" r="2.55" fill="#000" stroke="#000" stroke-width="1"/>
<circle cx="479.90" cy="184.37" r="2.55" fill="#000" stroke="#000" stroke-width="1"/>
<circle cx="491.70" cy="185.15" r="2.55" fill="#000" stroke="#000" stroke-width="1"/>
<circle cx="504.10" cy="181.69" r="2.55" fill="#000" stroke="#000" stroke-width="1"/>
<circle cx="516.10" cy="182.48" r="2.55" fill="#000" stroke="#000" stroke-width="1"/>
<circle cx="527.90" cy="183.42" r="2.55" fill="#000" stroke="#000" stroke-width="1"/>
<circle cx="539.90" cy="183.27" r="2.55" fill="#000" stroke="#000" stroke-width="1"/>
<circle cx="551.70" cy="184.84" r="2.55" fill="#000" stroke="#000" stroke-width="1"/>
<circle cx="563.70" cy="186.41" r="2.55" fill="#000" stroke="#000" stroke-width="1"/>
<circle cx="576.00" cy="184.84" r="2.55" fill="#000" stroke="#000" stroke-width="1"/>
<circle cx="587.80" cy="184.84" r="2.55" fill="#000" stroke="#000" stroke-width="1"/>
<rect x="385.35" y="152.92" width="4.10" height="4.10" fill="#000" stroke="#000" stroke-width="1"/>
<rect x="390.55" y="148.52" width="4.10" height="4.10" fill="#000" stroke="#000" stroke-width="1"/>
<rect x="405.85" y="161.09" width="4.10" height="4.10" fill="#000" stroke="#000" stroke-width="1"/>
<rect x="417.85" y="165.02" width="4.10" height="4.10" fill="#000" stroke="#000" stroke-width="1"/>
<rect x="429.65" y="155.12" width="4.10" height="4.10" fill="#000" stroke="#000" stroke-width="1"/>
<rect x="454.05" y="154.81" width="4.10" height="4.10" fill="#000" stroke="#000" stroke-width="1"/>
<rect x="465.85" y="158.42" width="4.10" height="4.10" fill="#000" stroke="#000" stroke-width="1"/>
<rect x="477.85" y="162.51" width="4.10" height="4.10" fill="#000" stroke="#000" stroke-width="1"/>
<rect x="489.65" y="156.22" width="4.10" height="4.10" fill="#000" stroke="#000" stroke-width="1"/>
<rect x="502.05" y="170.84" width="4.10" height="4.10" fill="#000" stroke="#000" stroke-width="1"/>
<rect x="514.05" y="180.43" width="4.10" height="4.10" fill="#000" stroke="#000" stroke-width="1"/>
<rect x="525.85" y="181.37" width="4.10" height="4.10" fill="#000" stroke="#000" stroke-width="1"/>
<rect x="537.85" y="172.57" width="4.10" height="4.10" fill="#000" stroke="#000" stroke-width="1"/>
<rect x="549.65" y="180.43" width="4.10" height="4.10" fill="#000" stroke="#000" stroke-width="1"/>
<rect x="561.65" y="182.00" width="4.10" height="4.10" fill="#000" stroke="#000" stroke-width="1"/>
<rect x="573.95" y="180.43" width="4.10" height="4.10" fill="#000" stroke="#000" stroke-width="1"/>
<rect x="585.75" y="179.64" width="4.10" height="4.10" fill="#000" stroke="#000" stroke-width="1"/>
<text x="0.40" y="274.80" font-size="23.4" text-anchor="start" fill="#111" stroke="#111" stroke-width="0.3">C</text>
<line x1="40.50" y1="279.00" x2="40.50" y2="461.00" stroke="#606060" stroke-width="1.6"/>
<line x1="36.20" y1="460.30" x2="41.00" y2="460.30" stroke="#606060" stroke-width="1.6"/>
<text x="34.40" y="464.60" font-size="11.6" text-anchor="end" fill="#111" stroke="#111" stroke-width="0.3">0</text>
<line x1="36.20" y1="422.38" x2="41.00" y2="422.38" stroke="#606060" stroke-width="1.6"/>
<text x="34.40" y="426.68" font-size="11.6" text-anchor="end" fill="#111" stroke="#111" stroke-width="0.3">50</text>
<line x1="36.20" y1="384.45" x2="41.00" y2="384.45" stroke="#606060" stroke-width="1.6"/>
<text x="34.40" y="388.75" font-size="11.6" text-anchor="end" fill="#111" stroke="#111" stroke-width="0.3">100</text>
<line x1="36.20" y1="346.53" x2="41.00" y2="346.53" stroke="#606060" stroke-width="1.6"/>
<text x="34.40" y="350.83" font-size="11.6" text-anchor="end" fill="#111" stroke="#111" stroke-width="0.3">150</text>
<line x1="36.20" y1="308.60" x2="41.00" y2="308.60" stroke="#606060" stroke-width="1.6"/>
<text x="34.40" y="312.90" font-size="11.6" text-anchor="end" fill="#111" stroke="#111" stroke-width="0.3">200</text>
<line x1="40.00" y1="460.60" x2="295.70" y2="460.60" stroke="#606060" stroke-width="1.6"/>
<line x1="40.30" y1="460.60" x2="40.30" y2="465.00" stroke="#606060" stroke-width="1.6"/>
<text x="40.30" y="477.90" font-size="11.2" text-anchor="middle" fill="#111" stroke="#111" stroke-width="0.3">0</text>
<line x1="71.00" y1="460.60" x2="71.00" y2="465.00" stroke="#606060" stroke-width="1.6"/>
<text x="71.00" y="477.90" font-size="11.2" text-anchor="middle" fill="#111" stroke="#111" stroke-width="0.3">15</text>
<line x1="101.71" y1="460.60" x2="101.71" y2="465.00" stroke="#606060" stroke-width="1.6"/>
<text x="101.71" y="477.90" font-size="11.2" text-anchor="middle" fill="#111" stroke="#111" stroke-width="0.3">30</text>
<line x1="163.12" y1="460.60" x2="163.12" y2="465.00" stroke="#606060" stroke-width="1.6"/>
<text x="163.12" y="477.90" font-size="11.2" text-anchor="middle" fill="#111" stroke="#111" stroke-width="0.3">60</text>
<line x1="224.53" y1="460.60" x2="224.53" y2="465.00" stroke="#606060" stroke-width="1.6"/>
<text x="224.53" y="477.90" font-size="11.2" text-anchor="middle" fill="#111" stroke="#111" stroke-width="0.3">90</text>
<line x1="285.94" y1="460.60" x2="285.94" y2="465.00" stroke="#606060" stroke-width="1.6"/>
<text x="285.94" y="477.90" font-size="11.2" text-anchor="middle" fill="#111" stroke="#111" stroke-width="0.3">120</text>
<text x="168.00" y="491.70" font-size="11.8" text-anchor="middle" fill="#111" stroke="#111" stroke-width="0.3">Time (min after i.p. glucose load)</text>
<text x="10.00" y="368.40" font-size="11.3" text-anchor="middle" fill="#111" stroke="#111" stroke-width="0.3" transform="rotate(-90 10.00 368.40)">Blood glucose (mg/dl)</text>
<line x1="55.20" y1="282.60" x2="70.90" y2="282.60" stroke="#111" stroke-width="1.1"/>
<rect x="60.05" y="279.35" width="6.50" height="6.50" fill="#000" stroke="#000" stroke-width="1"/>
<line x1="55.20" y1="298.70" x2="70.90" y2="298.70" stroke="#111" stroke-width="1.1" stroke-dasharray="2,1.5"/>
<circle cx="63.30" cy="298.70" r="4.20" fill="none" stroke="#111" stroke-width="1"/>
<text x="79.60" y="286.90" font-size="11.95" text-anchor="start" fill="#111" stroke="#111" stroke-width="0.3">Hu-SRC-SCID (Tx-LEA-tg) (n=6)</text>
<text x="79.60" y="303.40" font-size="11.95" text-anchor="start" fill="#111" stroke="#111" stroke-width="0.3">Co (Tx-LEA-tg) (n=11)</text>
<line x1="40.30" y1="420.86" x2="40.30" y2="429.96" stroke="#222" stroke-width="1"/>
<line x1="36.50" y1="420.86" x2="44.10" y2="420.86" stroke="#222" stroke-width="1"/>
<line x1="36.50" y1="429.96" x2="44.10" y2="429.96" stroke="#222" stroke-width="1"/>
<line x1="40.30" y1="419.34" x2="40.30" y2="432.99" stroke="#222" stroke-width="1"/>
<line x1="36.50" y1="419.34" x2="44.10" y2="419.34" stroke="#222" stroke-width="1"/>
<line x1="36.50" y1="432.99" x2="44.10" y2="432.99" stroke="#222" stroke-width="1"/>
<line x1="60.77" y1="344.40" x2="60.77" y2="355.78" stroke="#222" stroke-width="1"/>
<line x1="56.97" y1="344.40" x2="64.57" y2="344.40" stroke="#222" stroke-width="1"/>
<line x1="56.97" y1="355.78" x2="64.57" y2="355.78" stroke="#222" stroke-width="1"/>
<line x1="60.77" y1="314.90" x2="60.77" y2="346.30" stroke="#222" stroke-width="1"/>
<line x1="56.97" y1="314.90" x2="64.57" y2="314.90" stroke="#222" stroke-width="1"/>
<line x1="56.97" y1="346.30" x2="64.57" y2="346.30" stroke="#222" stroke-width="1"/>
<line x1="71.00" y1="339.32" x2="71.00" y2="354.94" stroke="#222" stroke-width="1"/>
<line x1="67.20" y1="339.32" x2="74.80" y2="339.32" stroke="#222" stroke-width="1"/>
<line x1="67.20" y1="354.94" x2="74.80" y2="354.94" stroke="#222" stroke-width="1"/>
<line x1="71.00" y1="319.37" x2="71.00" y2="354.41" stroke="#222" stroke-width="1"/>
<line x1="67.20" y1="319.37" x2="74.80" y2="319.37" stroke="#222" stroke-width="1"/>
<line x1="67.20" y1="354.41" x2="74.80" y2="354.41" stroke="#222" stroke-width="1"/>
<line x1="101.71" y1="376.87" x2="101.71" y2="389.76" stroke="#222" stroke-width="1"/>
<line x1="97.91" y1="376.87" x2="105.51" y2="376.87" stroke="#222" stroke-width="1"/>
<line x1="97.91" y1="389.76" x2="105.51" y2="389.76" stroke="#222" stroke-width="1"/>
<line x1="101.71" y1="371.40" x2="101.71" y2="387.33" stroke="#222" stroke-width="1"/>
<line x1="97.91" y1="371.40" x2="105.51" y2="371.40" stroke="#222" stroke-width="1"/>
<line x1="97.91" y1="387.33" x2="105.51" y2="387.33" stroke="#222" stroke-width="1"/>
<line x1="163.12" y1="395.07" x2="163.12" y2="407.21" stroke="#222" stroke-width="1"/>
<line x1="159.32" y1="395.07" x2="166.92" y2="395.07" stroke="#222" stroke-width="1"/>
<line x1="159.32" y1="407.21" x2="166.92" y2="407.21" stroke="#222" stroke-width="1"/>
<line x1="163.12" y1="390.29" x2="163.12" y2="409.71" stroke="#222" stroke-width="1"/>
<line x1="159.32" y1="390.29" x2="166.92" y2="390.29" stroke="#222" stroke-width="1"/>
<line x1="159.32" y1="409.71" x2="166.92" y2="409.71" stroke="#222" stroke-width="1"/>
<line x1="224.53" y1="405.08" x2="224.53" y2="414.94" stroke="#222" stroke-width="1"/>
<line x1="220.73" y1="405.08" x2="228.33" y2="405.08" stroke="#222" stroke-width="1"/>
<line x1="220.73" y1="414.94" x2="228.33" y2="414.94" stroke="#222" stroke-width="1"/>
<line x1="224.53" y1="404.93" x2="224.53" y2="416.31" stroke="#222" stroke-width="1"/>
<line x1="220.73" y1="404.93" x2="228.33" y2="404.93" stroke="#222" stroke-width="1"/>
<line x1="220.73" y1="416.31" x2="228.33" y2="416.31" stroke="#222" stroke-width="1"/>
<line x1="285.94" y1="413.27" x2="285.94" y2="420.10" stroke="#222" stroke-width="1"/>
<line x1="282.14" y1="413.27" x2="289.74" y2="413.27" stroke="#222" stroke-width="1"/>
<line x1="282.14" y1="420.10" x2="289.74" y2="420.10" stroke="#222" stroke-width="1"/>
<line x1="285.94" y1="415.25" x2="285.94" y2="426.17" stroke="#222" stroke-width="1"/>
<line x1="282.14" y1="415.25" x2="289.74" y2="415.25" stroke="#222" stroke-width="1"/>
<line x1="282.14" y1="426.17" x2="289.74" y2="426.17" stroke="#222" stroke-width="1"/>
<polyline points="40.30,425.41 60.77,350.09 71.00,347.13 101.71,383.31 163.12,401.14 224.53,410.01 285.94,416.69" fill="none" stroke="#222" stroke-width="1" stroke-dasharray="2.2,1.5" stroke-linejoin="miter"/>
<polyline points="40.50,426.17 60.97,330.60 71.20,336.89 101.91,379.37 163.32,400.00 224.73,410.62 286.14,420.71" fill="none" stroke="#111" stroke-width="1" stroke-linejoin="miter"/>
<circle cx="40.30" cy="425.41" r="4.30" fill="none" stroke="#111" stroke-width="1.1"/>
<circle cx="60.77" cy="350.09" r="4.30" fill="none" stroke="#111" stroke-width="1.1"/>
<circle cx="71.00" cy="347.13" r="4.30" fill="none" stroke="#111" stroke-width="1.1"/>
<circle cx="101.71" cy="383.31" r="4.30" fill="none" stroke="#111" stroke-width="1.1"/>
<circle cx="163.12" cy="401.14" r="4.30" fill="none" stroke="#111" stroke-width="1.1"/>
<circle cx="224.53" cy="410.01" r="4.30" fill="none" stroke="#111" stroke-width="1.1"/>
<circle cx="285.94" cy="416.69" r="4.30" fill="none" stroke="#111" stroke-width="1.1"/>
<rect x="36.70" y="422.57" width="7.20" height="7.20" fill="#000" stroke="#000" stroke-width="1"/>
<rect x="57.17" y="327.00" width="7.20" height="7.20" fill="#000" stroke="#000" stroke-width="1"/>
<rect x="67.41" y="333.29" width="7.20" height="7.20" fill="#000" stroke="#000" stroke-width="1"/>
<rect x="98.11" y="375.77" width="7.20" height="7.20" fill="#000" stroke="#000" stroke-width="1"/>
<rect x="159.52" y="396.40" width="7.20" height="7.20" fill="#000" stroke="#000" stroke-width="1"/>
<rect x="220.93" y="407.02" width="7.20" height="7.20" fill="#000" stroke="#000" stroke-width="1"/>
<rect x="282.34" y="417.11" width="7.20" height="7.20" fill="#000" stroke="#000" stroke-width="1"/>
<text x="340.30" y="274.90" font-size="23.4" text-anchor="start" fill="#111" stroke="#111" stroke-width="0.3">D</text>
<line x1="384.00" y1="280.40" x2="384.00" y2="461.50" stroke="#555555" stroke-width="1.5"/>
<line x1="379.20" y1="460.50" x2="384.00" y2="460.50" stroke="#555555" stroke-width="1.5"/>
<text x="377.60" y="464.80" font-size="11.8" text-anchor="end" fill="#111" stroke="#111" stroke-width="0.3">0.0</text>
<line x1="379.20" y1="415.50" x2="384.00" y2="415.50" stroke="#555555" stroke-width="1.5"/>
<text x="377.60" y="419.80" font-size="11.8" text-anchor="end" fill="#111" stroke="#111" stroke-width="0.3">0.1</text>
<line x1="379.20" y1="370.50" x2="384.00" y2="370.50" stroke="#555555" stroke-width="1.5"/>
<text x="377.60" y="374.80" font-size="11.8" text-anchor="end" fill="#111" stroke="#111" stroke-width="0.3">0.2</text>
<line x1="379.20" y1="325.50" x2="384.00" y2="325.50" stroke="#555555" stroke-width="1.5"/>
<text x="377.60" y="329.80" font-size="11.8" text-anchor="end" fill="#111" stroke="#111" stroke-width="0.3">0.3</text>
<line x1="379.20" y1="280.50" x2="384.00" y2="280.50" stroke="#555555" stroke-width="1.5"/>
<text x="377.60" y="284.80" font-size="11.8" text-anchor="end" fill="#111" stroke="#111" stroke-width="0.3">0.4</text>
<text x="355.00" y="371.00" font-size="12.6" text-anchor="middle" fill="#111" stroke="#111" stroke-width="0.3" transform="rotate(-90 355.00 371.00)">Insulin (ng/ml)</text>
<line x1="402.20" y1="401.10" x2="402.20" y2="366.90" stroke="#111" stroke-width="1.1"/>
<line x1="394.70" y1="366.90" x2="409.70" y2="366.90" stroke="#111" stroke-width="1.1"/>
<rect x="387.00" y="401.10" width="30.40" height="59.50" fill="#000"/>
<line x1="438.20" y1="377.70" x2="438.20" y2="366.00" stroke="#111" stroke-width="1.1"/>
<line x1="430.70" y1="366.00" x2="445.70" y2="366.00" stroke="#111" stroke-width="1.1"/>
<rect x="423.50" y="377.70" width="30.00" height="82.90" fill="#fff" stroke="#111" stroke-width="1.1"/>
<line x1="510.50" y1="354.12" x2="510.50" y2="344.40" stroke="#111" stroke-width="1.1"/>
<line x1="503.00" y1="344.40" x2="518.00" y2="344.40" stroke="#111" stroke-width="1.1"/>
<rect x="495.40" y="354.12" width="30.20" height="106.48" fill="#000"/>
<line x1="546.40" y1="345.75" x2="546.40" y2="332.70" stroke="#111" stroke-width="1.1"/>
<line x1="538.90" y1="332.70" x2="553.90" y2="332.70" stroke="#111" stroke-width="1.1"/>
<rect x="531.90" y="345.75" width="29.60" height="114.85" fill="#fff" stroke="#111" stroke-width="1.1"/>
<line x1="618.80" y1="413.25" x2="618.80" y2="386.70" stroke="#111" stroke-width="1.1"/>
<line x1="611.30" y1="386.70" x2="626.30" y2="386.70" stroke="#111" stroke-width="1.1"/>
<rect x="603.60" y="413.25" width="30.40" height="47.35" fill="#000"/>
<line x1="654.90" y1="429.45" x2="654.90" y2="417.30" stroke="#111" stroke-width="1.1"/>
<line x1="647.40" y1="417.30" x2="662.40" y2="417.30" stroke="#111" stroke-width="1.1"/>
<rect x="639.90" y="429.45" width="30.60" height="31.15" fill="#fff" stroke="#111" stroke-width="1.1"/>
<line x1="379.20" y1="460.90" x2="673.20" y2="460.90" stroke="#555555" stroke-width="1.5"/>
<rect x="422.4" y="282" width="19" height="7.2" fill="#000"/>
<rect x="422.9" y="299.4" width="18" height="6.6" fill="#fff" stroke="#222" stroke-width="1"/>
<text x="452.30" y="289.80" font-size="11.95" text-anchor="start" fill="#111" stroke="#111" stroke-width="0.3">Hu-SRC-SCID (Tx-LEA-tg) (n=3)</text>
<text x="452.30" y="306.50" font-size="12.1" text-anchor="start" fill="#111" stroke="#111" stroke-width="0.3">Co (Tx-LEA-tg) (n=10)</text>
<text x="420.20" y="480.00" font-size="11.6" text-anchor="middle" fill="#111" stroke="#111" stroke-width="0.3">0 min</text>
<text x="535.00" y="480.00" font-size="11.6" text-anchor="middle" fill="#111" stroke="#111" stroke-width="0.3">10 min</text>
<text x="480.00" y="495.00" font-size="12" text-anchor="middle" fill="#111" stroke="#111" stroke-width="0.3">post glucose load</text>
<text x="636.80" y="480.00" font-size="11.6" text-anchor="middle" fill="#111" stroke="#111" stroke-width="0.3">delta</text>
<text x="639.90" y="495.00" font-size="11.6" text-anchor="middle" fill="#111" stroke="#111" stroke-width="0.3">insulin</text>
</g></svg></div></body></html>
